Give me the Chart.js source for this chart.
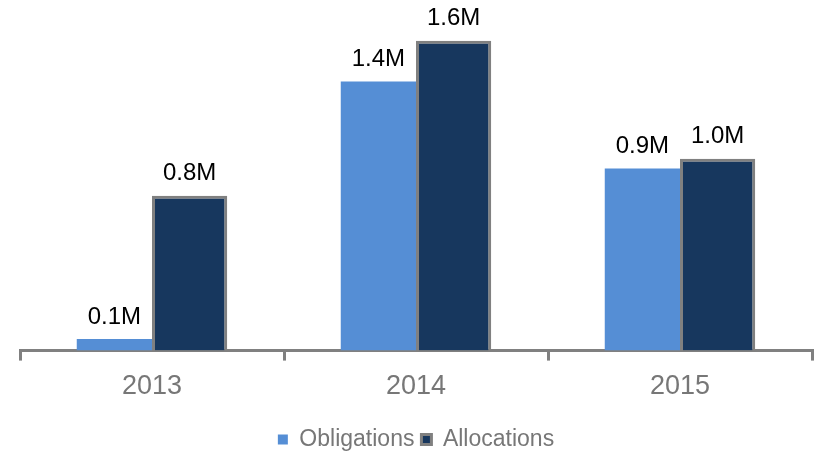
<!DOCTYPE html>
<html>
<head>
<meta charset="utf-8">
<script src="https://cdn.jsdelivr.net/npm/chart.js@4"></script>
<style>
  html, body { margin: 0; padding: 0; background: #fff; }
  #wrap { width: 817px; height: 455px; }
</style>
</head>
<body>
<div id="wrap"><canvas id="chart"></canvas></div>
<script>
// Chart values (millions)
const years = ['2013', '2014', '2015'];
const obligations = [0.06, 1.39, 0.94];
const allocations = [0.80, 1.60, 0.99];

// Draw the "x.xM" labels above each bar
const valueLabels = {
  id: 'valueLabels',
  afterDatasetsDraw(chart) {
    const ctx = chart.ctx;
    ctx.save();
    ctx.font = '24px "Liberation Sans", Arial, sans-serif';
    ctx.fillStyle = '#000';
    ctx.textAlign = 'center';
    ctx.textBaseline = 'bottom';
    chart.data.datasets.forEach((ds, i) => {
      chart.getDatasetMeta(i).data.forEach((bar, j) => {
        ctx.fillText(ds.data[j].toFixed(1) + 'M', bar.x, bar.y - 10);
      });
    });
    ctx.restore();
  }
};

new Chart('chart', {
  type: 'bar',
  data: {
    labels: years,
    datasets: [{
      label: 'Obligations',
      data: obligations,
      backgroundColor: '#558ed5',
      borderWidth: 0
    }, {
      label: 'Allocations',
      data: allocations,
      backgroundColor: '#17375e',
      borderColor: '#808080',
      borderWidth: 3
    }]
  },
  options: {
    responsive: true,
    maintainAspectRatio: false,
    animation: false,
    layout: { padding: { left: 20, right: 5, top: 2, bottom: -6 } },
    datasets: { bar: { categoryPercentage: 0.57, barPercentage: 1.0 } },
    scales: {
      x: {
        afterFit(scale) { scale.height += 8; },
        grid: { drawOnChartArea: false, drawTicks: true, tickLength: 10, color: '#808080', lineWidth: 3, offset: true },
        border: { color: '#808080', width: 3 },
        ticks: { color: '#777', font: { family: '"Liberation Sans", Arial, sans-serif', size: 27 }, padding: 10 }
      },
      y: {
        display: false,
        min: 0,
        max: 1.8
      }
    },
    plugins: {
      legend: {
        position: 'bottom',
        labels: {
          boxWidth: 10,
          boxHeight: 10,
          color: '#777',
          padding: 7,
          font: { family: '"Liberation Sans", Arial, sans-serif', size: 23 }
        }
      },
      tooltip: { enabled: false }
    }
  },
  plugins: [valueLabels]
});
</script>
</body>
</html>
